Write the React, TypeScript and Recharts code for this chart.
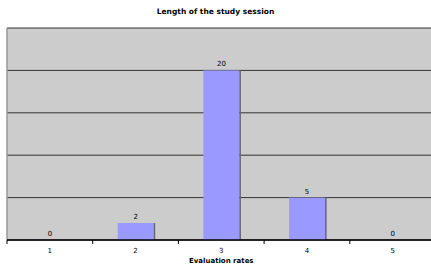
import { BarChart, Bar, XAxis, YAxis, CartesianGrid, LabelList } from "recharts";

const rates = ["1", "2", "3", "4", "5"];
const counts = [0, 2, 20, 5, 0];
const yTicks = [0, 5, 10, 15, 20, 25];

const data = rates.map((r, i) => ({ rate: r, count: counts[i] }));

const FONT = "'DejaVu Sans', Verdana, sans-serif";
const BAND = 85.7;

function ShadowBar(props: any) {
  const { x, y, width, height } = props;
  if (!height || height <= 0) return null;
  return (
    <g>
      <rect x={x} y={y} width={width} height={height} fill="#9999FF" />
      <rect x={x + width} y={y} width={1.5} height={height} fill="#666666" />
    </g>
  );
}

function RateTick(props: any) {
  const { x, y, payload } = props;
  return (
    <g>
      <line x1={x - BAND / 2} y1={y - 8} x2={x - BAND / 2} y2={y - 4} stroke="#000" strokeWidth={1} />
      <text x={x} y={y + 5} textAnchor="middle" fontSize={7} fill="#000" fontFamily={FONT}>
        {payload.value}
      </text>
    </g>
  );
}

const NoTick = () => <g />;

export default function App() {
  return (
    <div style={{ position: "absolute", left: 0, top: 0, width: 431, height: 265, overflow: "hidden", background: "#fff" }}>
      <div
        style={{
          position: "absolute",
          left: 0,
          width: 431,
          top: 7,
          textAlign: "center",
          fontFamily: FONT,
          fontWeight: "bold",
          fontSize: 7.5,
          color: "#000",
        }}
      >
        Length of the study session
      </div>
      <BarChart
        width={440}
        height={265}
        data={data}
        margin={{ top: 28, right: 4.5, left: 0, bottom: 0 }}
        barSize={36}
      >
        <CartesianGrid vertical={false} fill="#CCCCCC" stroke="#333333" strokeOpacity={1} />
        <YAxis
          domain={[0, 25]}
          ticks={yTicks}
          width={7}
          tick={<NoTick />}
          tickLine={false}
          axisLine={{ stroke: "#999999", strokeWidth: 1.5 }}
        />
        <XAxis
          dataKey="rate"
          height={25}
          tick={<RateTick />}
          tickLine={false}
          axisLine={{ stroke: "#000", strokeWidth: 1.5 }}
          label={{ value: "Evaluation rates", position: "insideBottom", offset: 2, fontSize: 7, fontWeight: "bold", fill: "#000", fontFamily: FONT }}
        />
        <Bar dataKey="count" shape={<ShadowBar />} isAnimationActive={false}>
          <LabelList dataKey="count" position="top" fontSize={7} fill="#000" fontFamily={FONT} offset={4} />
        </Bar>
      </BarChart>
    </div>
  );
}
